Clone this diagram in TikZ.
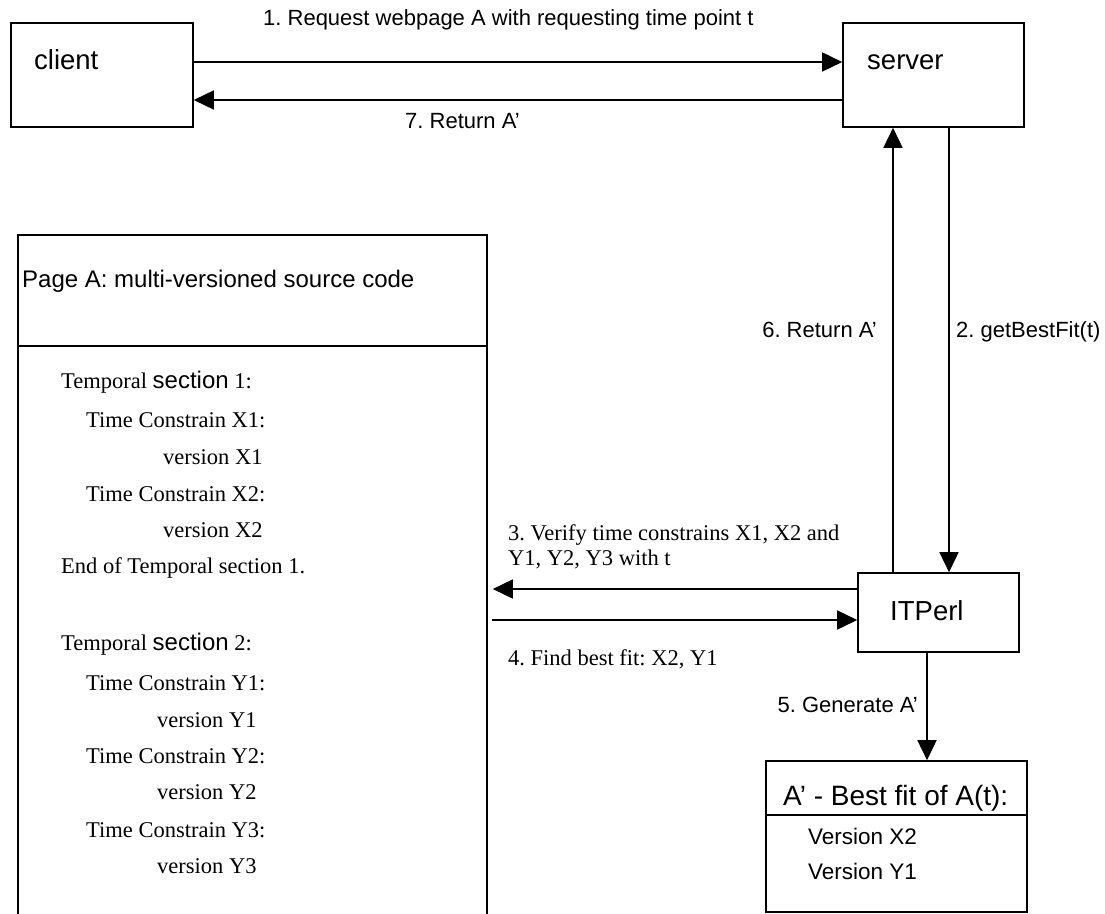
\documentclass[tikz,border=0pt]{standalone}
\usepackage{fontspec}
\setmainfont{Liberation Serif}
\setsansfont{Liberation Sans}
\usetikzlibrary{arrows.meta}
\frenchspacing

\begin{document}
\begin{tikzpicture}[x=1pt,y=-1pt,
  box/.style={draw, rectangle, line width=1.6pt, inner sep=0pt},
  conn/.style={line width=1.6pt},
  arr/.style={conn, -{Triangle[length=20pt,width=19pt]}},
  txt/.style={inner sep=0pt, anchor=base west},
  lbl/.style={txt, font=\sffamily\fontsize{22}{26}\selectfont},
  big/.style={txt, font=\sffamily\fontsize{27.5}{32}\selectfont},
  code/.style={txt, font=\rmfamily\fontsize{22.5}{27}\selectfont},
  verfit/.style={txt, font=\sffamily\fontsize{22.5}{27}\selectfont},
]
\clip (0,0) rectangle (1105,913);
\fill[white] (0,0) rectangle (1105,913);

% boxes
\node[box, minimum width=182pt, minimum height=104pt] (client) at (102,75) {};
\node[box, minimum width=181pt, minimum height=104pt] (server) at (933.5,75) {};
\node[box, minimum width=161pt, minimum height=79pt] (itperl) at (938.5,612.5) {};
\node[box, minimum width=469pt, minimum height=700pt] (pagea) at (252.5,585) {};
\node[box, minimum width=261pt, minimum height=151pt] (best) at (896.5,836.5) {};

% compartment lines
\draw[conn] (pagea.west |- 0,346) -- (pagea.east |- 0,346);
\draw[conn] (best.west |- 0,815) -- (best.east |- 0,815);

% box titles
\node[big] (tclient) at (34,69) {client};
\node[big] (tserver) at (867,69) {server};
\node[big] (titperl) at (890,620) {ITPerl};
\node[txt, font=\sffamily\fontsize{24}{28}\selectfont] (tpagea) at (22,287) {Page A: multi-versioned source code};
\node[txt, font=\sffamily\fontsize{28}{32}\selectfont] (tbest) at (783,805) {A’ - Best fit of A(t):};

% best-fit contents
\node[verfit] (vx2) at (808,844) {Version X2};
\node[verfit] (vy1) at (808,879) {Version Y1};

% multi-versioned source listing
\newcommand{\secword}{{\sffamily\fontsize{24}{28}\selectfont section}}
\node[code] (s1) at (61,388) {Temporal \secword{} 1:};
\node[code] (c1) at (86,427) {Time Constrain X1:};
\node[code] (v1) at (163,464) {version X1};
\node[code] (c2) at (86,501) {Time Constrain X2:};
\node[code] (v2) at (163,537) {version X2};
\node[code] (e1) at (61,573) {End of Temporal section 1.};
\node[code] (s2) at (61,650) {Temporal \secword{} 2:};
\node[code] (c3) at (86,690) {Time Constrain Y1:};
\node[code] (v3) at (157,727) {version Y1};
\node[code] (c4) at (86,763) {Time Constrain Y2:};
\node[code] (v4) at (157,799) {version Y2};
\node[code] (c5) at (86,837) {Time Constrain Y3:};
\node[code] (v5) at (157,873) {version Y3};

% connectors
\draw[arr] (client.east |- 0,62) -- (server.west |- 0,62);
\draw[arr] (server.west |- 0,100) -- (client.east |- 0,100);
\draw[arr] (server.south -| 949,0) -- (itperl.north -| 949,0);
\draw[arr] (itperl.north -| 893,0) -- (server.south -| 893,0);
\draw[arr, shorten >=5pt] (itperl.west |- 0,589) -- (pagea.east |- 0,589);
\draw[arr, shorten <=4pt] (pagea.east |- 0,620) -- (itperl.west |- 0,620);
\draw[arr] (itperl.south -| 927,0) -- (best.north -| 927,0);

% connector labels
\node[lbl] (l1) at (263,25) {1. Request webpage A with requesting time point t};
\node[lbl] (l7) at (405,128) {7. Return A’};
\node[lbl, anchor=base east] (l6) at (877,337) {6. Return A’};
\node[lbl] (l2) at (956,337) {2. getBestFit(t)};
\node[code] (l3a) at (508,540) {3. Verify time constrains X1, X2 and};
\node[code] (l3b) at (508,565) {Y1, Y2, Y3 with t};
\node[code] (l4) at (508,665) {4. Find best fit: X2, Y1};
\node[lbl, anchor=base east] (l5) at (918,712) {5. Generate A’};
\end{tikzpicture}
\end{document}
